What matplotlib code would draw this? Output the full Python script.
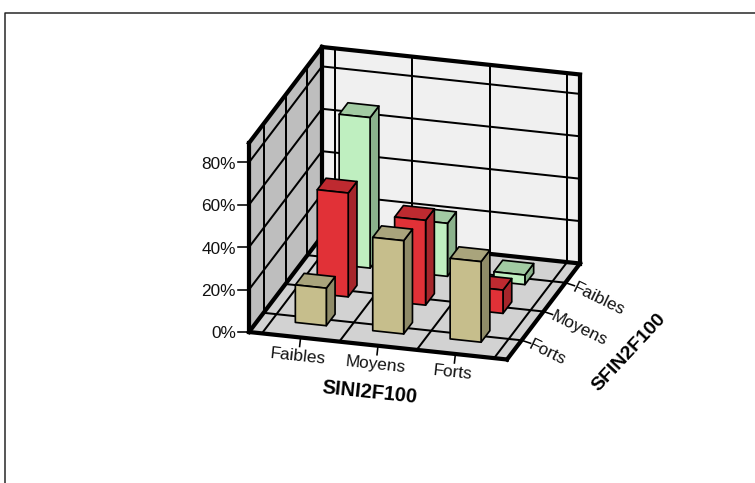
import matplotlib
matplotlib.use("Agg")
import matplotlib.pyplot as plt
from matplotlib.patches import Polygon

plt.rcParams['font.family'] = ['Liberation Sans', 'DejaVu Sans']

# Data
x_categories = ["Faibles", "Moyens", "Forts"]
y_categories = ["Forts", "Moyens", "Faibles"]   # front to back
row_faibles = [71, 25, 4.5]
row_moyens = [49, 40, 11]
row_forts = [17.7, 44, 38]
y_ticks = [0, 20, 40, 60, 80]
x_title = "SINI2F100"
y_title = "SFIN2F100"

# Style
green = ("#BFEFC0", "#A2CBA3", "#8BB28C")
red = ("#E13137", "#BE2A30", "#A6262B")
khaki = ("#C6BE8C", "#A9A47C", "#8F8B68")
rows = [(row_forts, khaki), (row_moyens, red), (row_faibles, green)]

# Oblique projection
ORIGIN = (249.0, 332.0)
UX = (258.0, 27.5)
VY = (73.0, -96.0)
ZP = -2.12          # pixels per percent
ZMAX = 189 / 2.12
STEP, MARGIN, BAR = 0.30, 0.05, 0.12


def P(u, v, z=0.0):
    return (ORIGIN[0] + u * UX[0] + v * VY[0],
            ORIGIN[1] + u * UX[1] + v * VY[1] + z * ZP)


fig = plt.figure(figsize=(7.55, 4.83), dpi=100)
ax = fig.add_axes([0, 0, 1, 1])
ax.set_xlim(0, 755)
ax.set_ylim(483, 0)
ax.axis("off")

px = 0.72
THICK, THIN, EDGE = 4.2 * px, 2.0 * px, 1.7 * px


def line(a, b, lw=THIN, z=2):
    ax.plot([a[0], b[0]], [a[1], b[1]], color="black", lw=lw, zorder=z,
            solid_capstyle="projecting")


def face(pts, fc, z):
    ax.add_patch(Polygon(pts, closed=True, fc=fc, ec="none", zorder=z))


# outer frame
ax.plot([5, 5, 755], [483, 12.5, 12.5], color="#222222", lw=1.5 * px, zorder=1)

# walls and floor
face([P(0, 0), P(1, 0), P(1, 1), P(0, 1)], "#D2D2D2", 1)
face([P(0, 1), P(1, 1), P(1, 1, ZMAX), P(0, 1, ZMAX)], "#F0F0F0", 1)
face([P(0, 0), P(0, 1), P(0, 1, ZMAX), P(0, 0, ZMAX)], "#BEBEBE", 1)

u_lines = [MARGIN + i * STEP for i in range(4)]
v_lines = [MARGIN + STEP / 2 + i * STEP for i in range(3)]
for u in u_lines:
    line(P(u, 0), P(u, 1))
    line(P(u, 1), P(u, 1, ZMAX))
for v in v_lines:
    line(P(0, v), P(1, v))
    line(P(0, v), P(0, v, ZMAX))
for t in y_ticks[1:]:
    line(P(0, 0, t), P(0, 1, t))
    line(P(0, 1, t), P(1, 1, t))

# heavy frame
for a, b in [(P(0, 0), P(1, 0)), (P(1, 0), P(1, 1)), (P(0, 0), P(0, 1)),
             (P(0, 1), P(1, 1)), (P(0, 0), P(0, 0, ZMAX)),
             (P(0, 1), P(0, 1, ZMAX)), (P(1, 1), P(1, 1, ZMAX)),
             (P(0, 0, ZMAX), P(0, 1, ZMAX)), (P(0, 1, ZMAX), P(1, 1, ZMAX))]:
    line(a, b, THICK, 3)

# bars, back to front
zorder = 4
for r in [2, 1, 0]:
    vals, (c_front, c_top, c_side) = rows[r]
    vc = v_lines[r]
    for i, h in enumerate(vals):
        uc = MARGIN + STEP / 2 + i * STEP
        u0, u1 = uc - BAR / 2, uc + BAR / 2
        v0, v1 = vc - BAR / 2, vc + BAR / 2
        for pts, c in [([P(u1, v0), P(u1, v1), P(u1, v1, h), P(u1, v0, h)], c_side),
                       ([P(u0, v0, h), P(u1, v0, h), P(u1, v1, h), P(u0, v1, h)], c_top),
                       ([P(u0, v0), P(u1, v0), P(u1, v0, h), P(u0, v0, h)], c_front)]:
            ax.add_patch(Polygon(pts, closed=True, fc=c, ec="black", lw=EDGE,
                                 joinstyle="round", zorder=zorder))
        zorder += 1

# z ticks
for t in y_ticks:
    a = P(0, 0, t)
    line((a[0] - 11, a[1]), a, 1.6 * px, 3)
    ax.text(a[0] - 13, a[1] + 2, f"{t}%", ha="right", va="center", fontsize=12.4,
            color="#111111")

# x ticks
ANG_X = -6.0
for i, name in enumerate(x_categories):
    a = P(MARGIN + STEP / 2 + i * STEP, 0)
    line(a, (a[0] - 1, a[1] + 9), 1.6 * px, 3)
    ax.text(a[0] - 2.5, a[1] + 18.5, name, ha="center", va="center", fontsize=12.4,
            rotation=ANG_X, rotation_mode="anchor", color="#111111")

# y ticks
for r, name in enumerate(y_categories):
    a = P(1, v_lines[r])
    line(a, (a[0] + 9, a[1] + 3), 1.6 * px, 3)
    ax.text(a[0] + 8, a[1] + 4, name, ha="left", va="center", fontsize=12.4,
            rotation=-26, rotation_mode="anchor", color="#111111")

ax.text(370, 393, x_title, ha="center", va="center", fontsize=14.4, fontweight="bold",
        rotation=-6, rotation_mode="anchor", color="black")
ax.text(629, 353, y_title, ha="center", va="center", fontsize=14.0, fontweight="bold",
        rotation=47, rotation_mode="anchor", color="black")

fig.savefig("out.png", dpi=100)
